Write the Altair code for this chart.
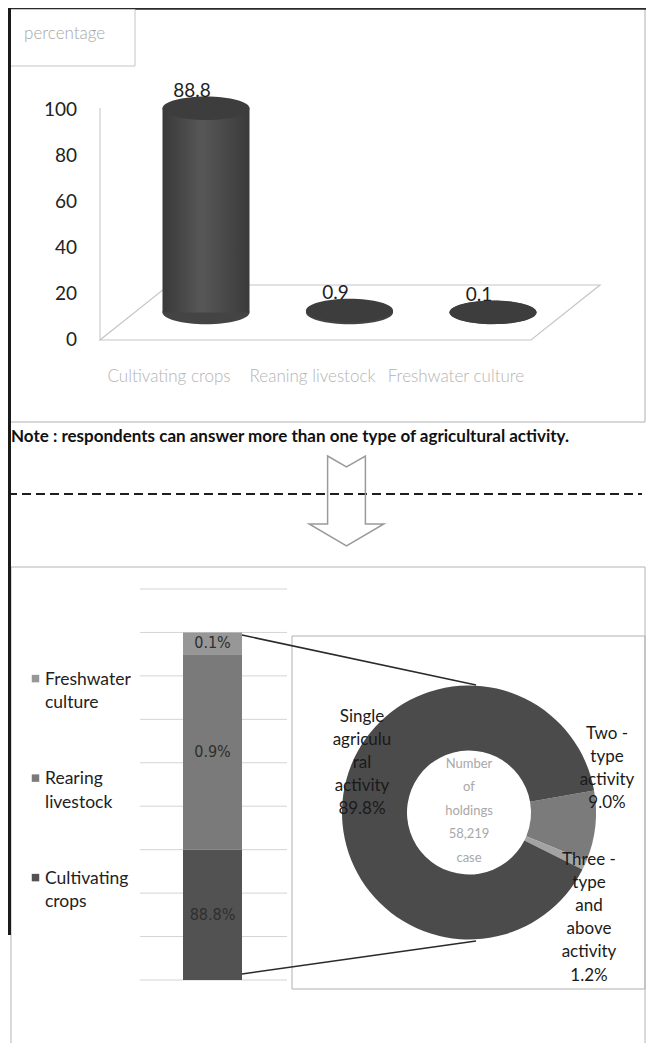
import math
import altair as alt
import pandas as pd

# ---------------- data ----------------
categories = ["Cultivating crops", "Reaning livestock", "Freshwater culture"]
percentages = [88.8, 0.9, 0.1]
value_labels = ["88.8", "0.9", "0.1"]
y_ticks = [0, 20, 40, 60, 80, 100]
y_title = ["percentage"]

note_text = ["Note : respondents can answer more than one type of agricultural activity."]

stack_categories = ["Cultivating crops", "Rearing livestock", "Freshwater culture"]
stack_heights = [3.0, 4.5, 0.5]          # segment heights read on the bar's own gridlines
stack_labels = ["88.8%", "0.9%", "0.1%"]
grid_values = [0, 1, 2, 3, 4, 5, 6, 7, 8, 9]

donut_categories = ["Two - type activity", "Three - type and above activity",
                    "Single agricultural activity"]
donut_values = [9.0, 1.2, 89.8]
donut_labels = ["Two -\ntype\nactivity\n9.0%",
                "Three -\ntype\nand\nabove\nactivity\n1.2%",
                "Single\nagriculu\nral\nactivity\n89.8%"]
center_text = ["Number\nof\nholdings\n58,219\ncase"]

# ---------------- styles ----------------
W, H = 638, 1035
FONT = "Lato, 'Open Sans', 'DejaVu Sans', sans-serif"
COND = "'DejaVu Sans Condensed', 'Liberation Sans Narrow', 'DejaVu Sans', sans-serif"
stack_colors = ["#525252", "#7a7a7a", "#979797"]
donut_colors = ["#7b7b7b", "#a3a3a3", "#4b4b4b"]

one = pd.DataFrame({"k": [0]})


def rect(x, x2, y, y2, stroke="#b4b4b4", sw=1.0):
    return alt.Chart(one).mark_rect(fillOpacity=0, stroke=stroke, strokeWidth=sw).encode(
        x=alt.value(x), x2=alt.value(x2), y=alt.value(y), y2=alt.value(y2))


def seg(x, y, x2, y2, color="#333333", sw=1.0, dash=None):
    kw = dict(color=color, strokeWidth=sw)
    if dash:
        kw["strokeDash"] = dash
    return alt.Chart(one).mark_rule(**kw).encode(
        x=alt.value(x), y=alt.value(y), x2=alt.value(x2), y2=alt.value(y2))


def text_block(lines, x, y, size, color, align="left", baseline="middle", weight="normal",
               font=FONT, lh=None):
    kw = dict(align=align, baseline=baseline, font=font, fontSize=size, color=color,
              fontWeight=weight, lineBreak="\n")
    if lh:
        kw["lineHeight"] = lh
    return alt.Chart(pd.DataFrame({"t": lines})).mark_text(**kw).encode(
        text="t:N", x=alt.value(x), y=alt.value(y))


# ---------------- top panel ----------------
top_box = rect(0.5, 637, 0.5, 414, "#b0b0b0")
top_line = seg(0, 0.8, 638, 0.8, "#2a2a2a", 2)
pct_box = rect(0.5, 127, 1.5, 58, "#c4c4c4")
pct_text = text_block(y_title, 16, 26, 17, "#a6a6a6", weight=300)

axis_line = seg(92, 100, 92, 332, "#c4c4c4", 1)
tick_scale = alt.Scale(domain=[0, 100], range=[332, 102], nice=False, zero=False)
tick_labels = alt.Chart(pd.DataFrame({"tick": y_ticks})).mark_text(
    align="right", baseline="middle", font=FONT, fontSize=19, color="#222222"
).encode(y=alt.Y("tick:Q", scale=tick_scale, axis=None), x=alt.value(69), text="tick:Q")

FLOOR = "M -1 0.11 L 0.724 0.11 L 1 -0.11 L -0.724 -0.11 Z"
floor = alt.Chart(one).mark_point(shape=FLOOR, size=250000, filled=False, opacity=1,
                                  color="#c6c6c6", strokeWidth=1.2).encode(
    x=alt.value(342), y=alt.value(304.5))

cyl_df = pd.DataFrame({"cat": categories, "value": percentages, "label": value_labels})
x_cyl = alt.X("cat:N", scale=alt.Scale(type="point", domain=categories, range=[198, 485],
                                       padding=0), axis=None)
cyl_scale = alt.Scale(domain=[0, 100], range=[304.5, 74.5], nice=False, zero=False)
ELL = "M -1 0 A 1 0.27 0 1 0 1 0 A 1 0.27 0 1 0 -1 0 Z"
grad = alt.Gradient(gradient="linear",
                    stops=[alt.GradientStop(color="#393939", offset=0),
                           alt.GradientStop(color="#575757", offset=0.45),
                           alt.GradientStop(color="#3a3a3a", offset=1)],
                    x1=0, x2=1, y1=0, y2=0)
cyl_base = alt.Chart(cyl_df).transform_calculate(base="0")
cyl_bottom = cyl_base.mark_point(shape=ELL, size=87 * 87, filled=True, opacity=1,
                                 color="#444444").encode(
    x=x_cyl, y=alt.Y("base:Q", scale=cyl_scale, axis=None))
cyl_body = cyl_base.mark_bar(size=87, color=grad).encode(
    x=x_cyl, y=alt.Y("value:Q", scale=cyl_scale, axis=None), y2="base:Q")
cyl_top = cyl_base.mark_point(shape=ELL, size=87 * 87, filled=True, opacity=1,
                              color="#3d3d3d").encode(
    x=x_cyl, y=alt.Y("value:Q", scale=cyl_scale, axis=None))
cyl_labels = cyl_base.mark_text(dx=-14, dy=-17, baseline="middle", font=FONT, fontSize=19,
                                color="#222222").encode(
    x=x_cyl, y=alt.Y("value:Q", scale=cyl_scale, axis=None), text="label:N")
cat_labels = cyl_base.mark_text(dx=-37, baseline="middle", font=FONT, fontSize=17,
                                fontWeight=300, color="#b4b4b4").encode(
    x=x_cyl, y=alt.value(369), text="cat:N")

# ---------------- middle ----------------
note = text_block(note_text, 3, 429, 17, "#111111", weight="bold")
dashed = seg(0, 486, 634, 486, "#1e1e1e", 2, dash=[9, 5])
ARROW = ("M -0.42 -1 L 0 -0.76 L 0.42 -1 L 0.42 0.51 L 0.83 0.51 L 0 1 "
         "L -0.83 0.51 L -0.42 0.51 Z")
arrow = alt.Chart(one).mark_point(shape=ARROW, size=8100, filled=False, opacity=1,
                                  color="#9a9a9a", strokeWidth=1.5).encode(
    x=alt.value(338.5), y=alt.value(493))

# ---------------- bottom panel ----------------
bottom_box = rect(3, 637, 559, 1050, "#b4b4b4")
left_line = seg(1.5, 0, 1.5, 927, "#1a1a1a", 3)

ys = alt.Scale(domain=[0, 9], range=[972, 581], nice=False, zero=False)
grid = alt.Chart(pd.DataFrame({"g": grid_values})).mark_rule(color="#d4d4d4").encode(
    y=alt.Y("g:Q", scale=ys, axis=None), x=alt.value(132), x2=alt.value(279))

stack_df = pd.DataFrame({"cat": stack_categories, "h": stack_heights,
                         "label": stack_labels, "idx": [0, 1, 2]})
stack_base = alt.Chart(stack_df).transform_stack(
    stack="h", groupby=[], as_=["y0", "y1"], sort=[alt.SortField("idx", order="ascending")]
).transform_calculate(mid="(datum.y0 + datum.y1) / 2")
color_stack = alt.Color("cat:N", scale=alt.Scale(domain=stack_categories, range=stack_colors),
                        legend=None)
stack_bars = stack_base.mark_bar().encode(
    x=alt.value(175), x2=alt.value(234),
    y=alt.Y("y0:Q", scale=ys, axis=None), y2="y1:Q", color=color_stack)
stack_text = stack_base.mark_text(font=COND, fontSize=16, color="#2e2e2e",
                                  baseline="middle").encode(
    x=alt.value(204.5), y=alt.Y("mid:Q", scale=ys, axis=None), text="label:N")

leg_order = list(reversed(stack_categories))
leg_y = alt.Y("cat:N", scale=alt.Scale(type="point", domain=leg_order, range=[670.6, 869.6],
                                       padding=0), axis=None)
leg_df = pd.DataFrame({"cat": stack_categories})
leg_sq = alt.Chart(leg_df).mark_square(size=56, opacity=1).encode(
    x=alt.value(27.5), y=leg_y, color=color_stack)
leg_txt = alt.Chart(leg_df).mark_text(align="left", baseline="top", lineBreak=" ",
                                      lineHeight=23.4, dy=-7.7, font=FONT, fontSize=17.5,
                                      color="#222222").encode(
    x=alt.value(37), y=leg_y, text="cat:N")

conn1 = seg(234, 627, 468, 677, "#2a2a2a", 1.6)
conn2 = seg(234, 966, 468, 933, "#2a2a2a", 1.6)
donut_box = rect(284, 637, 628, 981, "#b0b0b0")

donut_df = pd.DataFrame({"cat": donut_categories, "v": donut_values, "idx": [0, 1, 2]})
a0 = math.radians(80)
donut = alt.Chart(donut_df).mark_arc(radius=127, radius2=62).encode(
    theta=alt.Theta("v:Q", stack=True, scale=alt.Scale(range=[a0, a0 + 2 * math.pi])),
    order=alt.Order("idx:Q"),
    color=alt.Color("cat:N", scale=alt.Scale(domain=donut_categories, range=donut_colors),
                    legend=None),
    x=alt.value(461), y=alt.value(804.5))

lab_two = text_block([donut_labels[0]], 599, 718, 17, "#1a1a1a", align="center",
                     baseline="top", lh=23)
lab_three = text_block([donut_labels[1]], 581, 843.5, 17, "#1a1a1a", align="center",
                       baseline="top", lh=23.2)
lab_single = text_block([donut_labels[2]], 354, 700.5, 17, "#1a1a1a", align="center",
                        baseline="top", lh=23)
center_lab = text_block(center_text, 461, 749.5, 13, "#a8a8a8", align="center",
                        baseline="top", lh=23.5)

chart = alt.layer(
    top_box, top_line, pct_box, pct_text, axis_line, tick_labels, floor,
    cyl_bottom, cyl_body, cyl_top, cyl_labels, cat_labels,
    note, dashed, arrow,
    bottom_box, left_line, grid, stack_bars, stack_text, leg_sq, leg_txt,
    donut_box, conn1, conn2, donut, lab_two, lab_three, lab_single, center_lab,
).resolve_scale(
    x="independent", y="independent", color="independent", theta="independent"
).properties(
    width=W, height=H, autosize=alt.AutoSizeParams(type="none"), padding=0
).configure_view(strokeWidth=0)

chart.save("out.html", embed_options={"renderer": "svg", "actions": False})
